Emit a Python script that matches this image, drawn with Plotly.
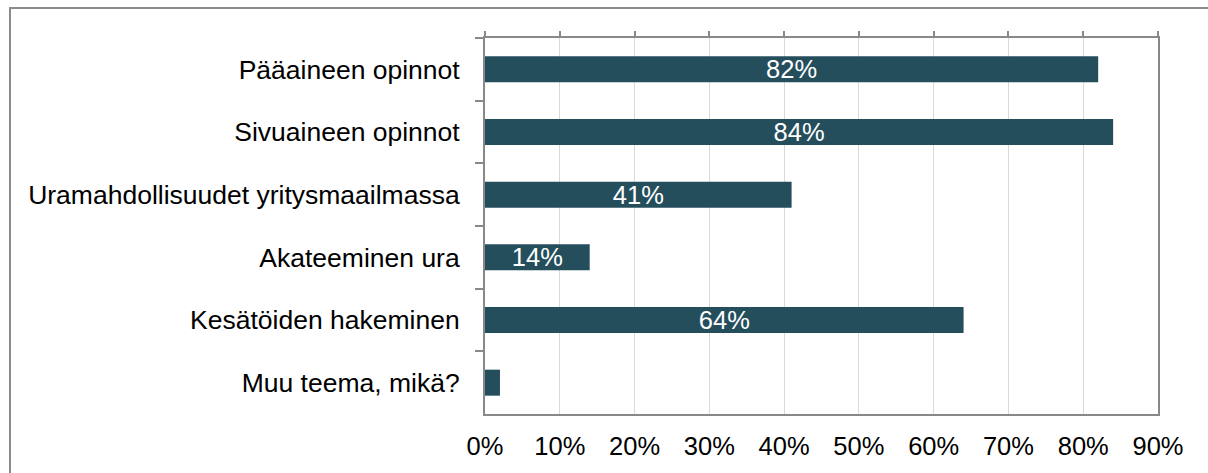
import plotly.graph_objects as go

categories = ["Pääaineen opinnot", "Sivuaineen opinnot", "Uramahdollisuudet yritysmaailmassa",
              "Akateeminen ura", "Kesätöiden hakeminen", "Muu teema, mikä?"]
values = [0.82, 0.84, 0.41, 0.14, 0.64, 0.02]
labels = ["82%", "84%", "41%", "14%", "64%", ""]
tick_vals = [0, 0.1, 0.2, 0.3, 0.4, 0.5, 0.6, 0.7, 0.8, 0.9]
tick_text = ["0%", "10%", "20%", "30%", "40%", "50%", "60%", "70%", "80%", "90%"]

W, H = 1208, 473
L, R, T, B = 485, 1158, 38, 414
FONT = "Liberation Sans, Arial, sans-serif"
AX = "#888888"

fig = go.Figure()
fig.add_trace(go.Bar(
    x=values, y=categories, orientation="h",
    marker=dict(color="#244E5C", line=dict(width=0)),
    text=labels, textposition="inside", insidetextanchor="middle",
    constraintext="none", cliponaxis=False,
    textfont=dict(color="white", size=25.5, family=FONT),
    hoverinfo="skip",
))
fig.add_trace(go.Scatter(x=[0], y=[categories[0]], xaxis="x2", mode="markers",
                         marker=dict(opacity=0), hoverinfo="skip", showlegend=False))

fig.update_layout(
    width=W, height=H,
    margin=dict(l=L, r=W - R, t=T, b=H - B, pad=0),
    paper_bgcolor="white", plot_bgcolor="white",
    showlegend=False, bargap=0.585,
    font=dict(family=FONT, size=25.5, color="black"),
    xaxis=dict(range=[0, 0.9], tickvals=tick_vals, ticktext=tick_text,
               showgrid=True, gridcolor="#D9D9D9", gridwidth=1,
               showline=True, linecolor=AX, linewidth=2, mirror=True,
               ticks="", zeroline=False, tickfont=dict(size=25.5),
               ticklabelstandoff=8),
    xaxis2=dict(range=[0, 0.9], overlaying="x", side="top", anchor="y",
                tickvals=tick_vals, showticklabels=False, ticks="outside",
                ticklen=6, tickwidth=1.5, tickcolor=AX, showgrid=False,
                showline=False, zeroline=False),
    yaxis=dict(categoryorder="array", categoryarray=categories,
               range=[5.5, -0.5], tickson="boundaries", ticks="outside",
               ticklen=8, tickwidth=1.5, tickcolor=AX,
               showline=True, linecolor=AX, linewidth=2, mirror=True,
               showgrid=False, zeroline=False, tickfont=dict(size=26.5),
               ticklabelstandoff=18),
    shapes=[dict(type="rect", xref="paper", yref="paper",
                 x0=(10 - L) / (R - L), x1=(1216 - L) / (R - L),
                 y0=(B - 480) / (B - T), y1=(B - 8) / (B - T),
                 line=dict(color="#8C8C8C", width=2), fillcolor="rgba(0,0,0,0)",
                 layer="above")],
)

fig.write_html("out.html", config={"displayModeBar": False},
               post_script="document.body.style.margin='0';document.body.style.overflow='hidden';")
